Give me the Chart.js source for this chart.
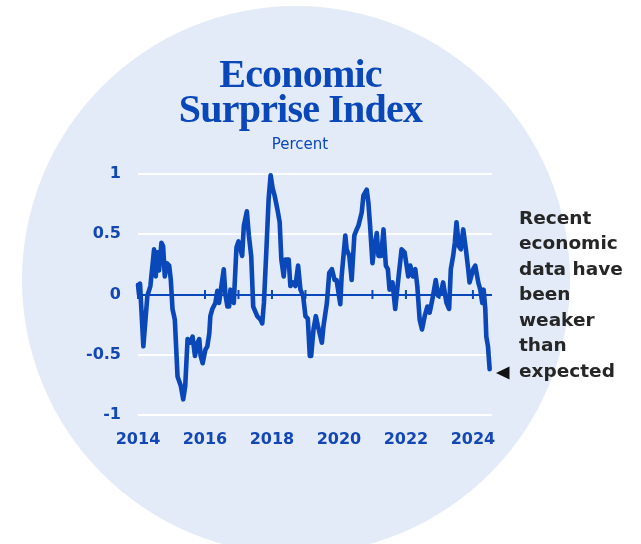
<!DOCTYPE html>
<html>
<head>
<meta charset="utf-8">
<script src="https://cdn.jsdelivr.net/npm/chart.js@4.4.1/dist/chart.umd.min.js"></script>
<style>
  html, body { margin: 0; padding: 0; background: #ffffff; }
  #wrap { width: 641px; height: 544px; }
</style>
</head>
<body>
<div id="wrap"><canvas id="myChart" width="641" height="544"></canvas></div>
<script>
// Economic surprise index
var years = [2014.00, 2014.03, 2014.06, 2014.16, 2014.28, 2014.37, 2014.48, 2014.53, 2014.58, 2014.63,
    2014.70, 2014.75, 2014.80, 2014.86, 2014.93, 2014.98, 2015.03, 2015.10, 2015.18, 2015.28,
    2015.35, 2015.41, 2015.48, 2015.55, 2015.63, 2015.70, 2015.78, 2015.83, 2015.87, 2015.93,
    2016.01, 2016.07, 2016.13, 2016.16, 2016.22, 2016.31, 2016.37, 2016.42, 2016.49, 2016.56,
    2016.61, 2016.67, 2016.72, 2016.76, 2016.86, 2016.94, 2017.00, 2017.11, 2017.16, 2017.25,
    2017.31, 2017.38, 2017.44, 2017.56, 2017.66, 2017.71, 2017.76, 2017.83, 2017.90, 2017.96,
    2018.02, 2018.08, 2018.16, 2018.23, 2018.28, 2018.35, 2018.40, 2018.50, 2018.55, 2018.63,
    2018.70, 2018.78, 2018.85, 2018.93, 2019.00, 2019.07, 2019.13, 2019.17, 2019.24, 2019.31,
    2019.37, 2019.49, 2019.54, 2019.64, 2019.71, 2019.79, 2019.87, 2019.93, 2020.04, 2020.08,
    2020.19, 2020.23, 2020.31, 2020.38, 2020.46, 2020.53, 2020.58, 2020.68, 2020.73, 2020.83,
    2020.88, 2020.93, 2021.00, 2021.06, 2021.13, 2021.18, 2021.26, 2021.33, 2021.40, 2021.46,
    2021.51, 2021.60, 2021.68, 2021.77, 2021.87, 2021.96, 2022.07, 2022.13, 2022.21, 2022.28,
    2022.34, 2022.41, 2022.48, 2022.56, 2022.64, 2022.71, 2022.81, 2022.89, 2022.96, 2023.04,
    2023.11, 2023.21, 2023.29, 2023.34, 2023.41, 2023.46, 2023.51, 2023.58, 2023.64, 2023.71,
    2023.79, 2023.86, 2023.90, 2024.01, 2024.07, 2024.16, 2024.22, 2024.28, 2024.32, 2024.37,
    2024.40, 2024.45, 2024.50];

var surprise = [0.08, 0.00, 0.09, -0.43, -0.01, 0.07, 0.375, 0.15, 0.35, 0.20,
    0.43, 0.40, 0.15, 0.26, 0.24, 0.12, -0.12, -0.21, -0.68, -0.76,
    -0.87, -0.76, -0.37, -0.40, -0.35, -0.51, -0.40, -0.37, -0.51, -0.57,
    -0.46, -0.43, -0.32, -0.18, -0.12, -0.07, 0.03, -0.07, 0.07, 0.21,
    0.00, -0.10, -0.10, 0.04, -0.07, 0.39, 0.44, 0.32, 0.57, 0.69,
    0.49, 0.32, -0.10, -0.18, -0.21, -0.24, -0.07, 0.35, 0.79, 0.99,
    0.88, 0.82, 0.71, 0.60, 0.29, 0.15, 0.29, 0.29, 0.07, 0.10,
    0.07, 0.24, 0.04, -0.01, -0.18, -0.20, -0.51, -0.51, -0.29, -0.18,
    -0.26, -0.40, -0.26, -0.07, 0.18, 0.21, 0.12, 0.12, -0.08, 0.15,
    0.49, 0.375, 0.32, 0.12, 0.49, 0.54, 0.57, 0.68, 0.82, 0.87,
    0.76, 0.57, 0.26, 0.40, 0.51, 0.32, 0.32, 0.54, 0.24, 0.21,
    0.04, 0.10, -0.12, 0.12, 0.375, 0.35, 0.15, 0.24, 0.15, 0.21,
    0.07, -0.21, -0.29, -0.18, -0.10, -0.15, -0.01, 0.12, -0.01, 0.01,
    0.10, -0.07, -0.12, 0.21, 0.32, 0.43, 0.60, 0.40, 0.375, 0.54,
    0.375, 0.21, 0.10, 0.21, 0.24, 0.10, 0.04, -0.07, 0.04, -0.12,
    -0.35, -0.43, -0.62];

var xTickYears = [2014, 2016, 2018, 2020, 2022, 2024];
var yTicks = [1, 0.5, 0, -0.5, -1];
var yearMarks = [2014, 2015, 2016, 2017, 2018, 2019, 2020, 2021, 2022, 2023, 2024];

var titleLines = ["Economic", "Surprise Index"];
var subTitle = "Percent";
var noteLines = ["Recent", "economic", "data have", "been", "weaker", "than", "expected"];

var blue = "#0a47b9";
var textBlue = "#1247b5";

var points = [];
for (var i = 0; i < years.length; i++) {
    points.push({x: years[i], y: surprise[i]});
}

const decor = {
    id: "decor",
    beforeDraw(chart) {
        const ctx = chart.ctx;
        ctx.save();
        ctx.fillStyle = "#e3ebf8";
        ctx.beginPath();
        ctx.arc(296, 280, 274, 0, Math.PI * 2);
        ctx.fill();
        ctx.restore();
    },
    beforeDatasetsDraw(chart) {
        // little year marks on the zero line
        const ctx = chart.ctx;
        const xs = chart.scales.x, ys = chart.scales.y;
        const y0 = ys.getPixelForValue(0);
        ctx.save();
        ctx.fillStyle = blue;
        yearMarks.forEach(function (yr) {
            const px = xs.getPixelForValue(yr);
            ctx.fillRect(px - 1, y0 - 4.5, 2, 9);
        });
        ctx.restore();
    },
    afterDraw(chart) {
        const ctx = chart.ctx;
        ctx.save();
        ctx.fillStyle = blue;
        ctx.textAlign = "center";
        ctx.textBaseline = "alphabetic";
        ctx.font = 'bold 40px "Liberation Serif"';
        try { ctx.letterSpacing = "-0.8px"; } catch (e) {}
        ctx.fillText(titleLines[0], 300.5, 86.5);
        ctx.fillText(titleLines[1], 300.5, 122);
        try { ctx.letterSpacing = "0px"; } catch (e) {}
        ctx.font = '15px "DejaVu Sans"';
        ctx.fillText(subTitle, 300, 148.5);

        ctx.fillStyle = "#262626";
        ctx.textAlign = "left";
        ctx.font = 'bold 18.5px "DejaVu Sans"';
        for (var k = 0; k < noteLines.length; k++) {
            ctx.fillText(noteLines[k], 519, 223.5 + k * 25.5);
        }
        // pointer triangle
        ctx.fillStyle = "#111111";
        ctx.beginPath();
        ctx.moveTo(496, 373);
        ctx.lineTo(509.5, 366.5);
        ctx.lineTo(509.5, 379.5);
        ctx.closePath();
        ctx.fill();
        ctx.restore();
    }
};

const config = {
    type: "line",
    data: {
        datasets: [{
            label: "Economic Surprise Index",
            data: points,
            borderColor: blue,
            borderWidth: 4.6,
            pointRadius: 0,
            tension: 0,
            fill: false,
            borderJoinStyle: "round",
            borderCapStyle: "round",
            clip: false
        }]
    },
    options: {
        responsive: false,
        animation: false,
        devicePixelRatio: 1,
        layout: {
            padding: {left: 78, right: 149, top: 174, bottom: 89}
        },
        plugins: {
            legend: {display: false},
            title: {display: false},
            tooltip: {enabled: false}
        },
        scales: {
            x: {
                type: "linear",
                min: 2014,
                max: 2024.57,
                afterFit: function (s) { s.height = 40; },
                afterBuildTicks: function (s) {
                    s.ticks = xTickYears.map(function (v) { return {value: v}; });
                },
                grid: {display: false, drawTicks: false},
                border: {display: false},
                ticks: {
                    color: textBlue,
                    padding: 15,
                    maxRotation: 0,
                    autoSkip: false,
                    font: {family: "DejaVu Sans", weight: "bold", size: 16},
                    callback: function (v) { return String(v); }
                }
            },
            y: {
                min: -1,
                max: 1,
                afterFit: function (s) { s.width = 60; },
                afterBuildTicks: function (s) {
                    s.ticks = yTicks.map(function (v) { return {value: v}; });
                },
                grid: {
                    drawTicks: false,
                    lineWidth: 2,
                    color: function (c) {
                        return c.tick && c.tick.value === 0 ? blue : "#ffffff";
                    }
                },
                border: {display: false},
                ticks: {
                    color: textBlue,
                    padding: 17,
                    font: {family: "DejaVu Sans", weight: "bold", size: 16},
                    callback: function (v) { return String(v); }
                }
            }
        }
    },
    plugins: [decor]
};

var myChart = new Chart(document.getElementById("myChart"), config);
</script>
</body>
</html>
